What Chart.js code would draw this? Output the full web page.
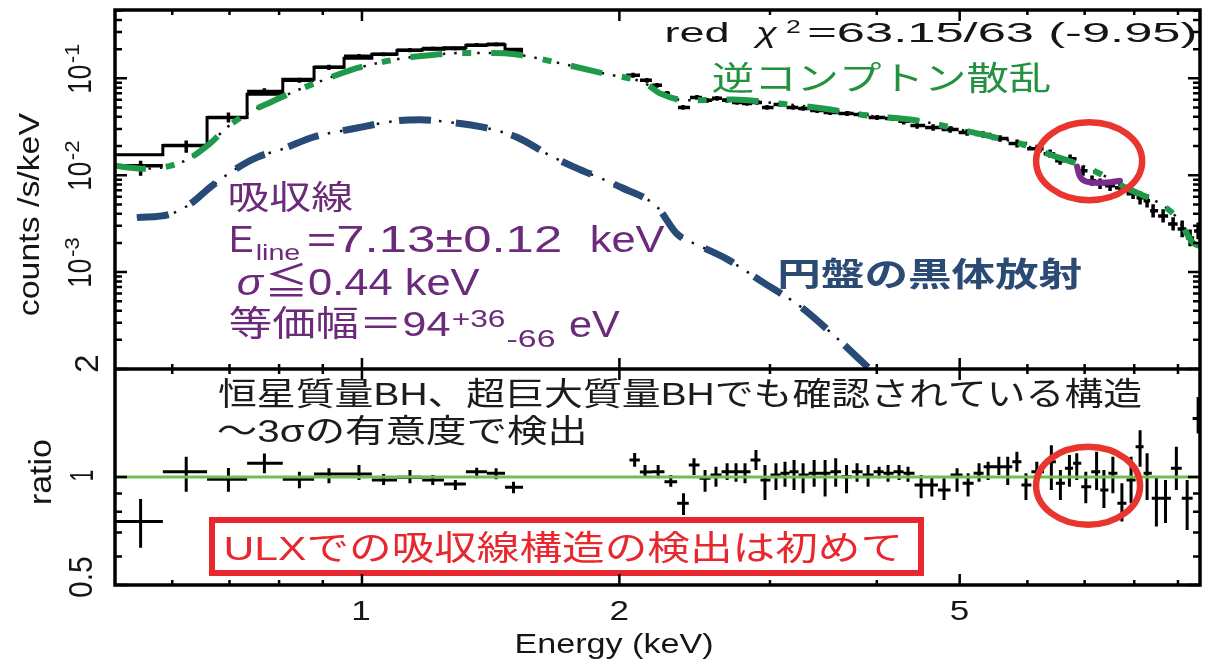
<!DOCTYPE html>
<html lang="ja">
<head>
<meta charset="utf-8">
<title>ULX spectrum</title>
<script src="https://cdn.jsdelivr.net/npm/chart.js@4.4.1/dist/chart.umd.min.js"></script>
<style>
  html, body { margin: 0; padding: 0; background: #fff; }
  canvas { display: block; }
</style>
</head>
<body>
<canvas id="spec" width="1208" height="661"></canvas>
<script>
// ---- datos ----
// bins anchos de baja energia (keV)
const binEdges = [0.513, 0.585, 0.659, 0.734, 0.808, 0.879, 0.953, 1.027, 1.099, 1.176, 1.247, 1.323, 1.400, 1.470, 1.543];
const foldedModel = [0.0163, 0.0202, 0.0394, 0.0683, 0.0976, 0.130, 0.161, 0.177, 0.195, 0.200, 0.207, 0.220, 0.222, 0.200];
const lowE = [0.551, 0.623, 0.698, 0.769, 0.845, 0.915, 0.992, 1.060, 1.138, 1.210, 1.286, 1.362, 1.435, 1.504];
const lowCounts = [0.0125, 0.0202, 0.0394, 0.0733, 0.0953, 0.130, 0.169, 0.177, 0.195, 0.203, 0.203, 0.220, 0.225, 0.188];
const lowCountsLo = [0.0099, 0.0171, 0.0350, 0.0683, 0.0898, 0.122, 0.161, 0.169, 0.186, 0.194, 0.194, 0.210, 0.214, 0.178];
const lowCountsHi = [0.0141, 0.0228, 0.0444, 0.0788, 0.1011, 0.138, 0.178, 0.186, 0.205, 0.213, 0.213, 0.231, 0.236, 0.198];
const lowRatio = [0.751, 1.034, 0.985, 1.092, 0.985, 1.019, 1.019, 0.981, 0.998, 0.981, 0.956, 1.034, 1.024, 0.936];
const lowRatioLo = [0.635, 0.910, 0.910, 1.024, 0.930, 0.960, 0.981, 0.950, 0.960, 0.950, 0.920, 0.992, 0.985, 0.901];
const lowRatioHi = [0.869, 1.139, 1.059, 1.163, 1.034, 1.057, 1.080, 1.019, 1.046, 1.013, 0.981, 1.061, 1.057, 0.970];

// datos de alta energia, panel de arriba (counts/s/keV)
const hiCountE = [2.075, 2.154, 2.213, 2.274, 2.311, 2.374, 2.465, 2.532, 2.601, 2.673, 2.745, 2.820, 2.897, 2.976, 3.083, 3.193, 3.281, 3.406, 3.527, 3.693, 3.824, 4.003, 4.179, 4.30, 4.459, 4.655, 4.873, 5.101, 5.325, 5.574, 5.836, 6.159, 6.379, 6.553, 6.731, 6.970, 7.141, 7.297, 7.496, 7.700, 7.975, 8.127, 8.282, 8.417, 8.647, 8.883, 9.102, 9.299, 9.502];
const hiCounts = [0.1074, 0.0953, 0.0846, 0.0699, 0.0621, 0.0501, 0.0635, 0.0592, 0.0621, 0.0592, 0.0564, 0.0551, 0.0564, 0.0501, 0.0538, 0.0501, 0.0489, 0.0466, 0.0444, 0.0434, 0.0424, 0.0394, 0.0385, 0.0360, 0.0326, 0.0311, 0.0296, 0.0276, 0.0263, 0.0239, 0.0212, 0.0188, 0.0167, 0.01414, 0.01483, 0.01113, 0.00877, 0.00816, 0.00778, 0.00742, 0.00643, 0.00585, 0.00544, 0.00429, 0.00380, 0.00314, 0.00279, 0.00225, 0.00266];
const hiErr = [0.06, 0.06, 0.06, 0.06, 0.06, 0.06, 0.06, 0.06, 0.06, 0.06, 0.06, 0.06, 0.06, 0.06, 0.06, 0.06, 0.06, 0.06, 0.06, 0.06, 0.06, 0.06, 0.06, 0.08, 0.08, 0.08, 0.08, 0.08, 0.08, 0.08, 0.10, 0.10, 0.10, 0.10, 0.10, 0.13, 0.13, 0.13, 0.13, 0.13, 0.13, 0.17, 0.17, 0.17, 0.17, 0.17, 0.22, 0.22, 0.22];

// ratio de alta energia
const hiRatioE = [2.084, 2.143, 2.220, 2.297, 2.377, 2.445, 2.519, 2.594, 2.673, 2.738, 2.805, 2.889, 2.960, 3.049, 3.124, 3.201, 3.280, 3.379, 3.480, 3.581, 3.687, 3.793, 3.907, 4.025, 4.123, 4.247, 4.351, 4.507, 4.639, 4.794, 4.965, 5.115, 5.268, 5.398, 5.556, 5.691, 5.833, 5.977, 6.154, 6.400, 6.558, 6.719, 6.853, 7.022, 7.229, 7.373, 7.553, 7.739, 7.932, 8.127, 8.282, 8.492, 8.703, 8.961, 9.225, 9.502];
const hiRatio = [1.115, 1.032, 1.034, 0.970, 0.845, 1.080, 0.992, 1.013, 1.034, 1.034, 1.034, 1.115, 0.981, 1.013, 1.024, 1.034, 1.013, 1.024, 1.024, 1.034, 1.002, 1.034, 1.013, 1.034, 1.024, 1.034, 1.024, 0.950, 0.950, 0.920, 1.013, 0.960, 1.024, 1.068, 1.068, 1.068, 1.103, 0.950, 1.034, 1.103, 0.960, 1.057, 1.092, 0.940, 1.034, 0.920, 1.024, 0.845, 0.981, 1.214, 1.024, 0.873, 0.873, 1.057, 0.873, 1.456];
const hiRatioLo = [1.068, 0.994, 0.992, 0.940, 0.784, 1.013, 0.910, 0.940, 0.981, 0.970, 0.960, 1.046, 0.863, 0.920, 0.940, 0.920, 0.901, 0.940, 0.882, 0.940, 0.901, 0.970, 0.940, 0.992, 0.970, 0.981, 0.970, 0.873, 0.882, 0.863, 0.910, 0.882, 0.970, 0.981, 1.013, 0.950, 1.034, 0.863, 0.970, 0.920, 0.863, 0.940, 0.981, 0.845, 0.920, 0.819, 0.901, 0.751, 0.845, 1.068, 0.863, 0.728, 0.744, 0.920, 0.712, 1.323];
const hiRatioHi = [1.166, 1.080, 1.080, 1.013, 0.901, 1.127, 1.046, 1.068, 1.092, 1.092, 1.092, 1.189, 1.080, 1.092, 1.103, 1.115, 1.092, 1.115, 1.115, 1.127, 1.080, 1.092, 1.080, 1.068, 1.080, 1.080, 1.068, 1.013, 1.002, 0.992, 1.057, 1.024, 1.092, 1.103, 1.139, 1.139, 1.176, 1.024, 1.103, 1.227, 1.046, 1.151, 1.164, 1.034, 1.176, 1.046, 1.139, 0.960, 1.139, 1.351, 1.164, 1.002, 0.981, 1.214, 0.981, 1.671];

// componentes del modelo
const comptE = [0.513, 0.557, 0.6175, 0.664, 0.695, 0.7455, 0.781, 0.8395, 0.900, 0.968, 1.041, 1.117, 1.201, 1.312, 1.423, 1.510, 1.704, 1.914, 2.143, 2.231, 2.399, 2.716, 3.058, 3.462, 3.896, 4.459, 5.006, 5.574, 5.884, 6.327, 6.860, 7.297, 7.868, 8.578, 8.980, 9.374, 9.552];
const comptV = [0.01254, 0.01168, 0.01380, 0.02121, 0.03107, 0.04661, 0.05641, 0.07509, 0.09534, 0.1210, 0.1430, 0.1612, 0.1731, 0.1829, 0.1829, 0.1773, 0.1430, 0.1127, 0.0887, 0.0699, 0.0592, 0.0606, 0.0551, 0.0489, 0.0414, 0.0367, 0.0296, 0.0239, 0.0212, 0.0167, 0.01315, 0.01036, 0.00725, 0.00507, 0.00363, 0.00200, 0.00186];
const diskE = [0.5455, 0.5963, 0.6293, 0.664, 0.7065, 0.7536, 0.8084, 0.8765, 0.9761, 1.1076, 1.1689, 1.2674, 1.385, 1.5184, 1.6592, 1.7747, 2.014, 2.213, 2.336, 2.485, 2.673, 2.929, 3.253, 3.574, 3.929, 4.202];
const diskV = [0.00365, 0.00396, 0.00503, 0.00747, 0.01113, 0.01529, 0.01869, 0.02464, 0.03012, 0.0367, 0.0373, 0.0352, 0.0313, 0.02464, 0.01593, 0.01204, 0.00742, 0.00472, 0.00248, 0.00186, 0.00136, 0.000807, 0.000444, 0.000217, 0.0000988, 0.0000557];
const lineE = [6.860, 6.897, 6.990, 7.199, 7.496, 7.700];
const lineV = [0.01225, 0.01012, 0.00877, 0.00836, 0.00846, 0.00877];

// ejes
const xRange = [0.5143, 9.55];
const countsRange = [1e-4, 0.507];
const ratioRange = [0.5, 2];
const xMajor = [1, 2, 5];
const xTickLabels = ['1', '2', '5'];
const xMinor = [0.6, 0.7, 0.8, 0.9, 3, 4, 6, 7, 8, 9];
const countsMajor = [1e-3, 1e-2, 1e-1];
const countsTickExp = ['-3', '-2', '-1'];
const minorSteps = [2, 3, 4, 5, 6, 7, 8, 9];
const ratioMajor = [0.5, 1, 2];
const ratioTickLabels = ['0.5', '1', '2'];
const ratioMinor = [0.6, 0.7, 0.8, 0.9];

// circulos rojos (centro en unidades de datos)
const circleTop = { x: 7.085, y: 0.01396 };
const circleBottom = { x: 7.065, y: 0.946 };

// ---- armado ----
function binAround(arr, i) {
  const n = arr.length;
  const left = i > 0 ? Math.sqrt(arr[i - 1] * arr[i]) : arr[i] / Math.sqrt(arr[i + 1] / arr[i]);
  const right = i < n - 1 ? Math.sqrt(arr[i] * arr[i + 1]) : arr[i] * Math.sqrt(arr[i] / arr[i - 1]);
  return [left, right];
}

const topCross = lowE.map((e, i) => ({
  x: e, y: lowCounts[i], xMin: binEdges[i], xMax: binEdges[i + 1], yMin: lowCountsLo[i], yMax: lowCountsHi[i]
}));
hiCountE.forEach((e, i) => {
  const [a, b] = binAround(hiCountE, i);
  topCross.push({ x: e, y: hiCounts[i], xMin: a, xMax: b, yMin: hiCounts[i] / (1 + hiErr[i]), yMax: hiCounts[i] * (1 + hiErr[i]) });
});

const ratioCross = lowE.map((e, i) => ({
  x: e, y: lowRatio[i], xMin: binEdges[i], xMax: binEdges[i + 1], yMin: lowRatioLo[i], yMax: lowRatioHi[i]
}));
hiRatioE.forEach((e, i) => {
  const [a, b] = binAround(hiRatioE, i);
  ratioCross.push({ x: e, y: hiRatio[i], xMin: a, xMax: b, yMin: hiRatioLo[i], yMax: hiRatioHi[i] });
});

const stepData = binEdges.map((e, i) => ({ x: e, y: foldedModel[Math.min(i, foldedModel.length - 1)] }));
const comptData = comptE.map((e, i) => ({ x: e, y: comptV[i] }));
const diskData = diskE.map((e, i) => ({ x: e, y: diskV[i] }));
const lineData = lineE.map((e, i) => ({ x: e, y: lineV[i] }));
const unityData = [{ x: xRange[0], y: 1 }, { x: xRange[1], y: 1 }];

// ---- texto estirado a un ancho dado ----
function inkText(ctx, str, font, color, x0, x1, y, mode) {
  ctx.save();
  ctx.font = font;
  ctx.fillStyle = color;
  ctx.textAlign = 'left';
  ctx.textBaseline = 'alphabetic';
  const m = ctx.measureText(str);
  const w = m.actualBoundingBoxLeft + m.actualBoundingBoxRight;
  const base = mode === 'c' ? y + (m.actualBoundingBoxAscent - m.actualBoundingBoxDescent) / 2 : y;
  ctx.translate(x0, base);
  ctx.scale((x1 - x0) / w, 1);
  ctx.fillText(str, m.actualBoundingBoxLeft, 0);
  ctx.restore();
}

function centerText(ctx, str, font, color, cx, cy, sx) {
  ctx.save();
  ctx.font = font;
  ctx.fillStyle = color;
  ctx.textAlign = 'left';
  ctx.textBaseline = 'alphabetic';
  const m = ctx.measureText(str);
  const w = m.actualBoundingBoxLeft + m.actualBoundingBoxRight;
  ctx.translate(cx, cy + (m.actualBoundingBoxAscent - m.actualBoundingBoxDescent) / 2);
  ctx.scale(sx, 1);
  ctx.fillText(str, -w / 2 + m.actualBoundingBoxLeft, 0);
  ctx.restore();
}

// texto girado 90 grados, de y0 (arriba) a y1 (abajo)
function vText(ctx, str, font, color, cx, y0, y1, cross) {
  ctx.save();
  ctx.font = font;
  ctx.fillStyle = color;
  ctx.textAlign = 'left';
  ctx.textBaseline = 'alphabetic';
  const m = ctx.measureText(str);
  const w = m.actualBoundingBoxLeft + m.actualBoundingBoxRight;
  const h = m.actualBoundingBoxAscent - m.actualBoundingBoxDescent;
  ctx.translate(cx, (y0 + y1) / 2);
  ctx.rotate(-Math.PI / 2);
  ctx.scale((y1 - y0) / w, cross);
  ctx.fillText(str, -w / 2 + m.actualBoundingBoxLeft, h / 2);
  ctx.restore();
}

const SANS = '"Liberation Sans", "Noto Sans CJK JP"';
const CJK = '"Noto Sans CJK JP"';
const INK = '#151515';
const PURPLE = '#6b2a7a';

const decor = {
  id: 'decor',
  // cruces de datos (barras de error) debajo de las curvas
  beforeDatasetsDraw(chart) {
    const ctx = chart.ctx;
    chart.data.datasets.forEach((ds) => {
      if (!ds.crosses) return;
      const xs = chart.scales.x;
      const ys = chart.scales[ds.yAxisID];
      ctx.save();
      ctx.beginPath();
      ctx.rect(xs.left, ys.top, xs.right - xs.left, ys.bottom - ys.top);
      ctx.clip();
      ctx.strokeStyle = '#000';
      ctx.lineWidth = ds.crossWidth;
      ctx.beginPath();
      ds.data.forEach((p) => {
        const px = xs.getPixelForValue(p.x);
        const py = ys.getPixelForValue(p.y);
        ctx.moveTo(xs.getPixelForValue(p.xMin), py);
        ctx.lineTo(xs.getPixelForValue(p.xMax), py);
        ctx.moveTo(px, ys.getPixelForValue(p.yMin));
        ctx.lineTo(px, ys.getPixelForValue(p.yMax));
      });
      ctx.stroke();
      ctx.restore();
    });
  },
  afterDatasetsDraw(chart) {
    const ctx = chart.ctx;
    const xs = chart.scales.x, yc = chart.scales.yc, yr = chart.scales.yr;
    ctx.save();
    ctx.strokeStyle = '#e8362f';
    ctx.lineWidth = 6.5;
    ctx.beginPath();
    ctx.ellipse(xs.getPixelForValue(circleTop.x), yc.getPixelForValue(circleTop.y), 53, 39, 0, 0, Math.PI * 2);
    ctx.stroke();
    ctx.beginPath();
    ctx.ellipse(xs.getPixelForValue(circleBottom.x), yr.getPixelForValue(circleBottom.y), 52, 39, 0, 0, Math.PI * 2);
    ctx.stroke();
    // caja roja
    ctx.strokeStyle = '#e8282e';
    ctx.lineWidth = 6;
    ctx.strokeRect(212, 520, 709, 53);
    ctx.restore();
  },
  afterDraw(chart) {
    const ctx = chart.ctx;
    const a = chart.chartArea;
    const xs = chart.scales.x, yc = chart.scales.yc, yr = chart.scales.yr;

    // marcas de los ejes
    ctx.save();
    ctx.strokeStyle = '#000';
    ctx.lineWidth = 2.5;
    ctx.beginPath();
    [[yc.top, 1], [yc.bottom, -1], [yr.top, 1], [yr.bottom, -1]].forEach(([y, d]) => {
      xMajor.forEach((v) => { const p = xs.getPixelForValue(v); ctx.moveTo(p, y); ctx.lineTo(p, y + d * 11); });
      xMinor.forEach((v) => { const p = xs.getPixelForValue(v); ctx.moveTo(p, y); ctx.lineTo(p, y + d * 5); });
    });
    [[a.left, 1], [a.right, -1]].forEach(([x, d]) => {
      countsMajor.forEach((v) => { const p = yc.getPixelForValue(v); ctx.moveTo(x, p); ctx.lineTo(x + d * 12, p); });
      [1e-4, 1e-3, 1e-2, 1e-1].forEach((dec) => {
        minorSteps.forEach((s) => {
          const v = s * dec;
          if (v >= countsRange[1]) return;
          const p = yc.getPixelForValue(v);
          ctx.moveTo(x, p); ctx.lineTo(x + d * 7, p);
        });
      });
      ratioMajor.forEach((v) => { const p = yr.getPixelForValue(v); ctx.moveTo(x, p); ctx.lineTo(x + d * 12, p); });
      ratioMinor.forEach((v) => { const p = yr.getPixelForValue(v); ctx.moveTo(x, p); ctx.lineTo(x + d * 7, p); });
    });
    ctx.stroke();
    // marco
    ctx.lineWidth = 3.5;
    ctx.strokeRect(a.left, a.top, a.right - a.left, a.bottom - a.top);
    ctx.beginPath();
    ctx.moveTo(a.left, yr.top);
    ctx.lineTo(a.right, yr.top);
    ctx.stroke();
    ctx.restore();

    // etiquetas de ejes
    xMajor.forEach((v, i) => centerText(ctx, xTickLabels[i], '28px ' + SANS, INK, xs.getPixelForValue(v), 610, 1.25));
    inkText(ctx, 'Energy (keV)', '28px ' + SANS, INK, 517, 712, 653, 'b');
    countsMajor.forEach((v, i) => {
      const p = yc.getPixelForValue(v) + 1;
      vText(ctx, '10', '25px ' + SANS, INK, 78.5, p - 13.5, p + 13.5, 1.35);
      vText(ctx, countsTickExp[i], '16px ' + SANS, INK, 71, p - 36, p - 16, 1.3);
    });
    const rShift = [-8, -2, -5.5];
    const rLen = [40, 10, 16.7];
    const rCx = [81.5, 82.5, 86.7];
    ratioMajor.forEach((v, i) => {
      const p = yr.getPixelForValue(v) + rShift[i];
      vText(ctx, ratioTickLabels[i], '30px ' + SANS, INK, rCx[i], p - rLen[i] / 2, p + rLen[i] / 2, 1.08);
    });
    vText(ctx, 'counts /s/keV', '30px ' + SANS, INK, 27.5, 113, 315, 1.0);
    vText(ctx, 'ratio', '32px ' + SANS, INK, 39, 440, 503, 1.0);

    // anotaciones
    inkText(ctx, 'red', '28px ' + SANS, INK, 666, 727, 42, 'b');
    inkText(ctx, 'χ', 'italic 28px ' + SANS, INK, 752, 778, 42, 'b');
    inkText(ctx, '2', '19px ' + SANS, INK, 786, 800, 33, 'b');
    inkText(ctx, '=63.15/63 (-9.95)', '28px ' + SANS, INK, 809, 1195, 42, 'b');
    inkText(ctx, '逆コンプトン散乱', '33px ' + CJK, '#23913f', 713, 1050, 77.5, 'c');

    inkText(ctx, '吸収線', '33px ' + CJK, PURPLE, 230, 353, 196.7, 'c');
    inkText(ctx, 'E', '37px ' + SANS, PURPLE, 232, 253, 252, 'b');
    inkText(ctx, 'line', '22px ' + SANS, PURPLE, 257, 300, 260, 'b');
    inkText(ctx, '=7.13±0.12', '37px ' + SANS, PURPLE, 308, 560, 252, 'b');
    inkText(ctx, 'keV', '37px ' + SANS, PURPLE, 592, 665, 252, 'b');
    inkText(ctx, 'σ', 'italic 37px ' + SANS, PURPLE, 238, 265, 295, 'b');
    inkText(ctx, '≦0.44 keV', '37px ' + SANS, PURPLE, 268, 480, 295, 'b');
    inkText(ctx, '等価幅＝94', '35px ' + SANS, PURPLE, 230, 450, 336, 'b');
    inkText(ctx, '+36', '24px ' + SANS, PURPLE, 453, 505, 327, 'b');
    inkText(ctx, '-66', '24px ' + SANS, PURPLE, 508, 555, 347, 'b');
    inkText(ctx, 'eV', '37px ' + SANS, PURPLE, 570, 620, 337, 'b');

    inkText(ctx, '円盤の黒体放射', 'bold 33px ' + CJK, '#2b4a74', 780, 1082, 273.5, 'c');

    inkText(ctx, '恒星質量BH、超巨大質量BHでも確認されている構造', '32px ' + SANS, '#1c1c1c', 218, 1141, 392.5, 'c');
    inkText(ctx, '～3σの有意度で検出', '32px ' + SANS, '#1c1c1c', 218, 584, 430, 'c');
    inkText(ctx, 'ULXでの吸収線構造の検出は初めて', '34px ' + SANS, '#e8282e', 226, 898, 547, 'c');
  }
};

const canvas = document.getElementById('spec');
new Chart(canvas, {
  type: 'line',
  data: {
    datasets: [
      { label: 'gabs', data: lineData, yAxisID: 'yc', borderColor: '#7b2d8e', borderWidth: 6, pointRadius: 0, cubicInterpolationMode: 'monotone', borderCapStyle: 'round', order: 0 },
      { label: 'compt', data: comptData, yAxisID: 'yc', borderColor: '#1f9a4a', borderWidth: 6, borderDash: [32, 20, 9, 20], pointRadius: 0, cubicInterpolationMode: 'monotone', clip: 0, order: 1 },
      { label: 'compt dots', data: comptData, yAxisID: 'yc', borderColor: '#111', borderWidth: 2.5, borderDash: [2.5, 9], pointRadius: 0, cubicInterpolationMode: 'monotone', clip: 0, order: 2 },
      { label: 'diskbb', data: diskData, yAxisID: 'yc', borderColor: '#284a77', borderWidth: 7, borderDash: [32, 25], pointRadius: 0, cubicInterpolationMode: 'monotone', clip: 0, order: 3 },
      { label: 'diskbb dots', data: diskData, yAxisID: 'yc', borderColor: '#111', borderWidth: 2.5, borderDash: [2.5, 10], pointRadius: 0, cubicInterpolationMode: 'monotone', clip: 0, order: 4 },
      { label: 'folded', data: stepData, yAxisID: 'yc', borderColor: '#000', borderWidth: 3, stepped: true, pointRadius: 0, clip: 0, order: 5 },
      { label: 'unity', data: unityData, yAxisID: 'yr', borderColor: '#6fc04e', borderWidth: 3, pointRadius: 0, clip: 0, order: 6 },
      { label: 'data', data: topCross, yAxisID: 'yc', crosses: true, crossWidth: 3.5, showLine: false, pointRadius: 0, order: 7 },
      { label: 'ratio', data: ratioCross, yAxisID: 'yr', crosses: true, crossWidth: 3, showLine: false, pointRadius: 0, order: 8 }
    ]
  },
  options: {
    responsive: false,
    animation: false,
    devicePixelRatio: 1,
    events: [],
    layout: { padding: { left: 115, right: 8, top: 10, bottom: 76 } },
    plugins: { legend: { display: false }, tooltip: { enabled: false } },
    scales: {
      x: { type: 'logarithmic', min: xRange[0], max: xRange[1], display: false },
      yr: { type: 'logarithmic', min: ratioRange[0], max: ratioRange[1], position: 'left', stack: 'panels', stackWeight: 216, display: false },
      yc: { type: 'logarithmic', min: countsRange[0], max: countsRange[1], position: 'left', stack: 'panels', stackWeight: 359, display: false }
    }
  },
  plugins: [decor]
});
</script>
</body>
</html>
